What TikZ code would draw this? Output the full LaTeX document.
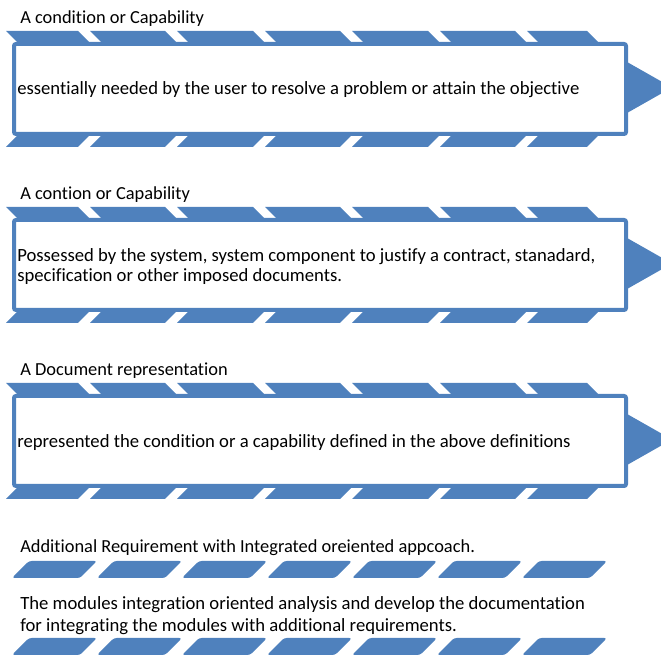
\documentclass[tikz,border=0pt]{standalone}
\usepackage{fontspec}
\setmainfont{Carlito}[Ligatures=NoCommon]
\usepackage{xcolor}
\usetikzlibrary{calc}
\definecolor{sablue}{HTML}{4F81BD}

\tikzset{
  seg/.style={fill=sablue,draw=none},
  frame/.style={draw=sablue,line width=3pt,fill=white,rounded corners=1.5pt},
  lab/.style={anchor=west,inner sep=0pt,font=\fontsize{13.8}{15}\selectfont},
  body/.style={anchor=west,inner sep=0pt,align=left,font=\fontsize{14}{15}\selectfont},
}

\begin{document}
\begin{tikzpicture}[x=0.75pt,y=-0.75pt]
  \useasboundingbox (0,0) rectangle (661,655);

  % three framed definitions, one under the other
  \foreach \dy in {0,176,352}{
    \begin{scope}[shift={(0,\dy)}]
      \fill[seg] (620,58) -- (672,87.5) -- (620,117) -- cycle;
      \foreach \a/\b in {6/78,90/165,177/253,265/340,352/428,440/515,527/587}{
        \fill[seg] (\a,31) -- (\b,31) -- (\b+14,45) -- (\a+14,45) -- cycle;
        \fill[seg] (\a,147) -- (\b,147) -- (\b+14,133) -- (\a+14,133) -- cycle;
      }
      \draw[frame] (14,44) rectangle (626,134);
    \end{scope}
  }

  \node[lab] at (20,18.5) (lab1) {A condition or Capability};
  \node[body] at (17,89.5) (txt1) {essentially needed by the user to resolve a problem or attain the objective};

  \node[lab] at ([yshift=-132pt]lab1.west) (lab2) {A contion or Capability};
  \node[body] at (17,266.5) (txt2) {Possessed by the system, system component to justify a contract, stanadard,\\specification or other imposed documents.};

  \node[lab] at ([yshift=-132pt]lab2.west) (lab3) {A Document representation};
  \node[body] at (17,442.5) (txt3) {represented the condition or a capability defined in the above definitions};

  % additional requirement rows
  \node[lab] at (20,547.5) (lab4) {Additional Requirement with Integrated oreiented appcoach.};
  \foreach \y in {561,638}
    \foreach \k in {0,...,6}
      \fill[seg,rounded corners=2pt] (12+85*\k,\y+17) -- (29+85*\k,\y) -- (97+85*\k,\y) -- (80+85*\k,\y+17) -- cycle;
  \node[body,font=\fontsize{14}{16}\selectfont] at (20,615.5) (txt4) {The modules integration oriented analysis and develop the documentation\\for integrating the modules with additional requirements.};

\end{tikzpicture}
\end{document}
